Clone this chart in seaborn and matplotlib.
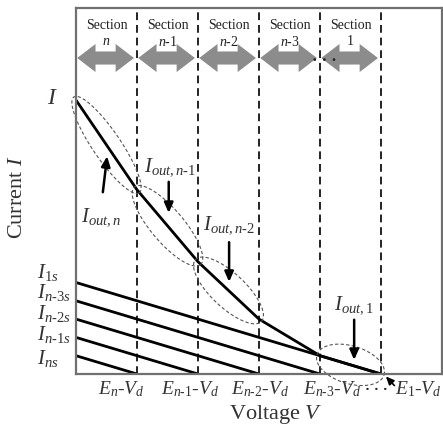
import numpy as np
import pandas as pd
import matplotlib
matplotlib.use("Agg")
import matplotlib.pyplot as plt
from matplotlib.patches import Polygon
import seaborn as sns

# ---------------- data ----------------
V_knots = [0, 1, 2, 3, 4, 5]                       # E_k - V_d boundaries (section units)
I_total = [4.49, 3.02, 1.84, 0.90, 0.30, 0.00]      # output current curve at the knots
I_sat = [0.30, 0.60, 0.90, 1.20, 1.50]              # I_ns, I_n-1s, I_n-2s, I_n-3s, I_1s
I_sat_end = [1, 2, 3, 4, 5]                         # voltage where each line reaches zero
sat_labels = [r"$I_{ns}$", r"$I_{n‐1s}$", r"$I_{n‐2s}$", r"$I_{n‐3s}$", r"$I_{1s}$"]
sat_label_y = [0.26, 0.64, 1.00, 1.34, 1.67]
section_names = [r"$n$", r"$n$-1", r"$n$-2", r"$n$-3", "1"]
xtick_labels = [r"$E_{n}$-$V_d$", r"$E_{n‐1}$-$V_d$", r"$E_{n‐2}$-$V_d$",
                r"$E_{n‐3}$-$V_d$", r"$E_{1}$-$V_d$"]
xtick_pos = [0.75, 1.87, 3.02, 4.20, 5.61]
out_labels = [r"$I_{out,n}$", r"$I_{out,n‐1}$", r"$I_{out,n‐2}$", r"$I_{out,1}$"]
out_label_xy = [(0.41, 2.57), (1.54, 3.39), (2.51, 2.44), (4.56, 1.13)]
out_arrow_from = [(0.44, 2.98), (1.52, 3.15), (2.51, 2.16), (4.56, 0.89)]
out_arrow_to = [(0.51, 3.57), (1.52, 2.64), (2.51, 1.51), (4.56, 0.23)]
ellipse_segments = [0, 1, 2, 4]
ellipse_minor = [0.23, 0.27, 0.28, 0.31]
ellipse_major_scale = [1.07, 1.08, 1.08, 1.10]

# ---------------- style ----------------
sns.set_theme(style="white")
plt.rcParams["font.family"] = ["Liberation Serif", "DejaVu Serif"]
plt.rcParams["mathtext.fontset"] = "custom"
plt.rcParams["mathtext.rm"] = "Liberation Serif"
plt.rcParams["mathtext.it"] = "Liberation Serif:italic"
plt.rcParams["mathtext.bf"] = "Liberation Serif:bold"

fig = plt.figure(figsize=(4.43, 4.33), dpi=100)
ax = fig.add_axes([76 / 443, 1 - 374 / 433, 366 / 443, 366 / 433])
ax.set_xlim(0, 6)
ax.set_ylim(0, 6)

# curves via seaborn
rows = []
for v, i in zip(V_knots, I_total):
    rows.append(dict(series="total", V=v, I=i))
for s, e in zip(I_sat, I_sat_end):
    rows.append(dict(series=f"sat{e}", V=0, I=s))
    rows.append(dict(series=f"sat{e}", V=e, I=0.0))
df = pd.DataFrame(rows)
sns.lineplot(data=df, x="V", y="I", units="series", estimator=None, sort=False,
             color="black", lw=2.0, ax=ax, legend=False)

# dashed section boundaries
for v in V_knots[1:]:
    ax.axvline(v, color="#222222", lw=1.4, ls=(0, (4, 2.5)), zorder=1)

# spines
for sp in ax.spines.values():
    sp.set_color("#707070")
    sp.set_linewidth(1.6)
ax.set_xlabel("")
ax.set_ylabel("")
ax.set_yticks([])
ax.set_xticks(xtick_pos)
ax.set_xticklabels(xtick_labels, fontsize=14)
ax.tick_params(axis="x", length=0, pad=4, colors="#333333")

# y labels
ax.text(-0.38, 4.52, r"$I$", fontsize=17, ha="center", va="center", color="#333333", clip_on=False)
for lab, y in zip(sat_labels, sat_label_y):
    ax.text(-0.64, y, lab, fontsize=15, ha="left", va="center", color="#333333", clip_on=False)

# section headers
for k, name in enumerate(section_names):
    ax.text(k + 0.5, 5.72, "Section", fontsize=10, ha="center", va="center", color="#222222")
    ax.text(k + 0.5, 5.45, name, fontsize=10, ha="center", va="center", color="#222222", zorder=5)
    x0, x1 = k + 0.02, k + 0.95
    yc, hh, sh, hl = 5.18, 0.23, 0.107, 0.30
    poly = [(x0, yc), (x0 + hl, yc + hh), (x0 + hl, yc + sh), (x1 - hl, yc + sh),
            (x1 - hl, yc + hh), (x1, yc), (x1 - hl, yc - hh), (x1 - hl, yc - sh),
            (x0 + hl, yc - sh), (x0 + hl, yc - hh)]
    ax.add_patch(Polygon(poly, closed=True, color="#8c8c8c", lw=0, zorder=3))
ax.text(4.07, 5.13, "· · ·", fontsize=12, ha="center", va="center", color="#222222",
        fontweight="bold", zorder=6)

# dashed ellipses around curve sections
t = np.linspace(0, 2 * np.pi, 300)
for seg, b, sc in zip(ellipse_segments, ellipse_minor, ellipse_major_scale):
    p0 = np.array([V_knots[seg], I_total[seg]])
    p1 = np.array([V_knots[seg + 1], I_total[seg + 1]])
    c = (p0 + p1) / 2
    d = p1 - p0
    L = np.linalg.norm(d)
    u = d / L
    w = np.array([-u[1], u[0]])
    a = L / 2 * sc
    pts = c[None, :] + (a * np.cos(t))[:, None] * u[None, :] + (b * np.sin(t))[:, None] * w[None, :]
    ax.plot(pts[:, 0], pts[:, 1], color="#555555", lw=0.8, ls=(0, (3, 2)), clip_on=False)

# I_out labels and arrows
for lab, xy, f, to in zip(out_labels, out_label_xy, out_arrow_from, out_arrow_to):
    ax.text(xy[0], xy[1], lab, fontsize=15, ha="center", va="center", color="#333333")
    ax.annotate("", xy=to, xytext=f,
                arrowprops=dict(arrowstyle="-|>,head_length=0.5,head_width=0.22",
                                color="black", lw=1.8, shrinkA=0, shrinkB=0))

# E1 - Vd pointer
ax.annotate("", xy=(5.08, -0.04), xytext=(5.22, -0.19),
            arrowprops=dict(arrowstyle="-|>,head_length=0.4,head_width=0.18",
                            color="black", lw=1.2, shrinkA=0, shrinkB=0),
            annotation_clip=False)
ax.text(4.92, -0.27, "· · ·", fontsize=11, ha="center", va="center", color="#222222",
        fontweight="bold", clip_on=False)

# axis titles
fig.text(276 / 443, 1 - 415 / 433, r"Voltage $V$", fontsize=16, ha="center", va="center",
         color="#333333")
fig.text(18 / 443, 1 - 197 / 433, r"Current $I$", fontsize=16, ha="center", va="center",
         rotation=90, color="#333333")

fig.savefig("out.png", dpi=100)
